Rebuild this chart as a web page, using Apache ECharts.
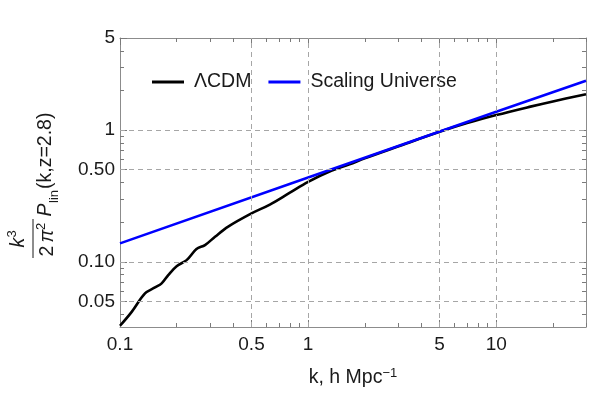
<!DOCTYPE html>
<html>
<head>
<meta charset="utf-8">
<script src="https://cdn.jsdelivr.net/npm/echarts@6/dist/echarts.min.js"></script>
<style>
html,body{margin:0;padding:0;background:#fff;}
#chart{width:593px;height:397px;}
</style>
</head>
<body>
<div id="chart"></div>
<script>
const kLCDM = [0.1, 0.1154, 0.1358, 0.1535, 0.1665, 0.1805, 0.2, 0.226, 0.255, 0.283, 0.32, 0.376, 0.5, 0.626, 0.8, 1.0, 1.3, 1.66, 2, 3, 5, 7, 10, 15, 20, 30];
const pLCDM = [0.0327, 0.0417, 0.0575, 0.0639, 0.0686, 0.0793, 0.0927, 0.103, 0.125, 0.134, 0.155, 0.185, 0.233, 0.272, 0.335, 0.405, 0.485, 0.55, 0.61, 0.75, 0.97, 1.13, 1.30, 1.50, 1.65, 1.87];
const kScaling = [0.1, 1, 10, 30];
const pScaling = [0.138, 0.436, 1.38, 2.37];

const xTickValues = [0.1, 0.5, 1, 5, 10];
const xTickLabels = ['0.1', '0.5', '1', '5', '10'];
const xMinorTicks = [0.2, 0.3, 0.4, 0.6, 0.7, 0.8, 0.9, 2, 3, 4, 6, 7, 8, 9, 20, 30];
const yTickValues = [0.05, 0.1, 0.5, 1, 5];
const yTickLabels = ['0.05', '0.10', '0.50', '1', '5'];
const yMinorTicks = [0.04, 0.06, 0.07, 0.08, 0.09, 0.2, 0.3, 0.4, 0.6, 0.7, 0.8, 0.9, 2, 3, 4];
const xGridLines = [0.5, 1, 5, 10];
const yGridLines = [0.05, 0.1, 0.5, 1];

const seriesNames = ['ΛCDM', 'Scaling Universe'];

const FONT = '"Liberation Sans", Arial, sans-serif';
const AXIS_COLOR = '#8c8c8c';
const TICK_COLOR = '#7a7a7a';
const X_MIN = 0.1, X_MAX = 30, Y_MIN = 0.032, Y_MAX = 5;

function fmt(values, labels) {
  return function (v) {
    for (let i = 0; i < values.length; i++) {
      if (Math.abs(v - values[i]) / values[i] < 1e-6) return labels[i];
    }
    return '';
  };
}

function xAxisDef(position, ticks, len, showLine, showLabel, extra) {
  return Object.assign({
    type: 'log', logBase: 10, min: X_MIN, max: X_MAX, position: position,
    axisLine: { show: showLine, lineStyle: { color: AXIS_COLOR, width: 1 } },
    axisTick: { show: true, inside: true, length: len, customValues: ticks, lineStyle: { color: TICK_COLOR, width: 1 } },
    axisLabel: showLabel ? {
      customValues: xTickValues, formatter: fmt(xTickValues, xTickLabels),
      fontSize: 19, fontFamily: FONT, color: '#1a1a1a', margin: 8
    } : { show: false },
    splitLine: { show: false }, minorTick: { show: false }, minorSplitLine: { show: false }
  }, extra || {});
}
function yAxisDef(position, ticks, len, showLine, showLabel) {
  return {
    type: 'log', logBase: 10, min: Y_MIN, max: Y_MAX, position: position,
    axisLine: { show: showLine, lineStyle: { color: AXIS_COLOR, width: 1 } },
    axisTick: { show: true, inside: true, length: len, customValues: ticks, lineStyle: { color: TICK_COLOR, width: 1 } },
    axisLabel: showLabel ? {
      customValues: yTickValues, formatter: fmt(yTickValues, yTickLabels),
      fontSize: 19, fontFamily: FONT, color: '#1a1a1a', margin: 5
    } : { show: false },
    splitLine: { show: false }, minorTick: { show: false }, minorSplitLine: { show: false }
  };
}

const chart = echarts.init(document.getElementById('chart'), null, { renderer: 'canvas' });

const gridMark = {
  silent: true, symbol: ['none', 'none'], animation: false,
  label: { show: false },
  lineStyle: { color: '#a6a6a6', type: [5, 4], width: 1 },
  emphasis: { disabled: true },
  data: xGridLines.map(v => ({ xAxis: v })).concat(yGridLines.map(v => ({ yAxis: v })))
};

const option = {
  animation: false,
  backgroundColor: '#ffffff',
  grid: { left: 120, right: 7, top: 38, bottom: 70, containLabel: false, outerBoundsMode: 'none' },
  xAxis: [
    xAxisDef('bottom', xTickValues, 7, true, true, {
      name: 'k, h Mpc{sup|−1}', nameLocation: 'middle', nameGap: 40,
      nameTextStyle: {
        fontSize: 19.5, fontFamily: FONT, color: '#1a1a1a', lineHeight: 22,
        rich: { sup: { fontSize: 13, fontFamily: FONT, color: '#1a1a1a', verticalAlign: 'top', lineHeight: 22, padding: [0, 0, 10, 0] } }
      }
    }),
    xAxisDef('bottom', xMinorTicks, 4, false, false),
    xAxisDef('top', xTickValues, 7, true, false),
    xAxisDef('top', xMinorTicks, 4, false, false)
  ],
  yAxis: [
    yAxisDef('left', yTickValues, 7, true, true),
    yAxisDef('left', yMinorTicks, 4, false, false),
    yAxisDef('right', yTickValues, 7, true, false),
    yAxisDef('right', yMinorTicks, 4, false, false)
  ],
  legend: {
    data: seriesNames,
    left: 152, top: 71, padding: 0,
    icon: 'rect', itemWidth: 32, itemHeight: 3, itemGap: 17,
    textStyle: { fontSize: 19.5, fontFamily: FONT, color: '#1a1a1a', padding: [0, 0, 0, 5], lineHeight: 22 },
    selectedMode: false
  },
  series: [
    {
      name: '_grid', type: 'line', data: [], xAxisIndex: 0, yAxisIndex: 0, z: 1,
      markLine: gridMark, silent: true
    },
    {
      name: seriesNames[0], type: 'line', xAxisIndex: 0, yAxisIndex: 0, z: 3,
      data: kLCDM.map((k, i) => [k, pLCDM[i]]),
      showSymbol: false, symbol: 'none', smooth: 0.35, clip: true,
      lineStyle: { color: '#000000', width: 2.6 }, itemStyle: { color: '#000000' }
    },
    {
      name: seriesNames[1], type: 'line', xAxisIndex: 0, yAxisIndex: 0, z: 4,
      data: kScaling.map((k, i) => [k, pScaling[i]]),
      showSymbol: false, symbol: 'none', clip: true,
      lineStyle: { color: '#0000ff', width: 2.6 }, itemStyle: { color: '#0000ff' }
    }
  ],
  graphic: [{
    type: 'group', x: 0, y: 258, rotation: Math.PI / 2, silent: true,
    children: [
      { type: 'line', shape: { x1: 0, y1: 33, x2: 39, y2: 33 }, style: { stroke: '#1a1a1a', lineWidth: 1 } },
      { type: 'text', x: 15.5, y: 19, style: { text: 'k', fontSize: 19.5, fontStyle: 'italic', fontFamily: FONT, fill: '#1a1a1a', align: 'center', verticalAlign: 'middle' } },
      { type: 'text', x: 24, y: 12, style: { text: '3', fontSize: 13, fontFamily: FONT, fill: '#1a1a1a', align: 'center', verticalAlign: 'middle' } },
      { type: 'text', x: 7, y: 48, style: { text: '2', fontSize: 19.5, fontFamily: FONT, fill: '#1a1a1a', align: 'center', verticalAlign: 'middle' } },
      { type: 'text', x: 22, y: 48, style: { text: 'π', fontSize: 19.5, fontStyle: 'italic', fontFamily: FONT, fill: '#1a1a1a', align: 'center', verticalAlign: 'middle' } },
      { type: 'text', x: 31.5, y: 41, style: { text: '2', fontSize: 13, fontFamily: FONT, fill: '#1a1a1a', align: 'center', verticalAlign: 'middle' } },
      { type: 'text', x: 41.5, y: 46, style: { text: 'P', fontSize: 19.5, fontStyle: 'italic', fontFamily: FONT, fill: '#1a1a1a', align: 'left', verticalAlign: 'middle' } },
      { type: 'text', x: 55, y: 54, style: { text: 'lin', fontSize: 13, fontFamily: FONT, fill: '#1a1a1a', align: 'left', verticalAlign: 'middle' } },
      { type: 'text', x: 69, y: 46, style: { text: '(k,z=2.8)', fontSize: 19.5, fontFamily: FONT, fill: '#1a1a1a', align: 'left', verticalAlign: 'middle' } }
    ]
  }]
};
chart.setOption(option);
</script>
</body>
</html>
